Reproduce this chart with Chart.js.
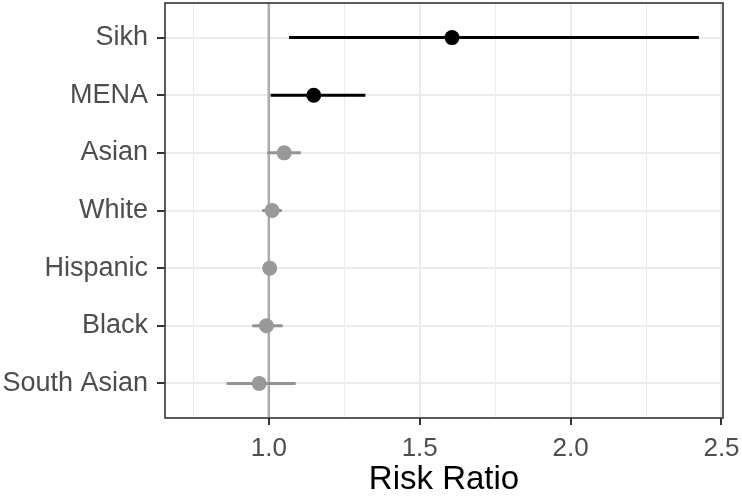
<!DOCTYPE html>
<html>
<head>
<meta charset="utf-8">
<script src="https://cdn.jsdelivr.net/npm/chart.js@4"></script>
<style>
  html, body { margin: 0; padding: 0; background: #fff; }
</style>
</head>
<body>
<canvas id="forest" width="742" height="496"></canvas>
<script>
const categories = ["Sikh", "MENA", "Asian", "White", "Hispanic", "Black", "South Asian"];
const estimate = [1.607, 1.149, 1.051, 1.011, 1.003, 0.992, 0.968];
const lower = [1.067, 1.006, 0.995, 0.978, 0.986, 0.945, 0.860];
const upper = [2.425, 1.320, 1.106, 1.043, 1.019, 1.046, 1.089];
const xTicks = [0.75, 1.0, 1.25, 1.5, 1.75, 2.0, 2.25, 2.5];
const majorTicks = [1.0, 1.5, 2.0, 2.5];
const refValue = 1.0;

const black = '#000000';
const grey = '#999999';
const greyLine = '#939393';
const fontFamily = "'Liberation Sans', Arial, Helvetica, sans-serif";

const isMajor = v => majorTicks.some(m => Math.abs(m - v) < 1e-6);
// black when the interval sits above 1
const pointColors = lower.map(l => l > refValue ? black : grey);
const lineColors = lower.map(l => l > refValue ? black : greyLine);

const forestPlugin = {
    id: 'forest',
    beforeDatasetsDraw(chart) {
        const ctx = chart.ctx;
        const x = chart.scales.x, y = chart.scales.y;
        const area = chart.chartArea;
        ctx.save();
        // reference line at 1
        ctx.strokeStyle = '#ababab';
        ctx.lineWidth = 2.5;
        ctx.beginPath();
        ctx.moveTo(x.getPixelForValue(refValue), area.top);
        ctx.lineTo(x.getPixelForValue(refValue), area.bottom);
        ctx.stroke();
        // confidence intervals
        ctx.lineWidth = 3;
        for (let i = 0; i < categories.length; i++) {
            ctx.strokeStyle = lineColors[i];
            ctx.beginPath();
            ctx.moveTo(x.getPixelForValue(lower[i]), y.getPixelForValue(i));
            ctx.lineTo(x.getPixelForValue(upper[i]), y.getPixelForValue(i));
            ctx.stroke();
        }
        ctx.restore();
    },
    afterDraw(chart) {
        const ctx = chart.ctx;
        const a = chart.chartArea;
        ctx.save();
        ctx.strokeStyle = '#333333';
        ctx.lineWidth = 1.6;
        ctx.strokeRect(a.left, a.top, a.right - a.left, a.bottom - a.top);
        ctx.restore();
    }
};

new Chart("forest", {
    type: "scatter",
    data: {
        datasets: [{
            data: estimate.map((v, i) => ({ x: v, y: i })),
            backgroundColor: pointColors,
            borderWidth: 0,
            pointRadius: 7.5,
            pointHoverRadius: 7.5
        }]
    },
    options: {
        responsive: false,
        animation: false,
        events: [],
        layout: { autoPadding: false, padding: { top: 3, right: 19, left: 0, bottom: 0 } },
        plugins: {
            legend: { display: false },
            tooltip: { enabled: false }
        },
        scales: {
            x: {
                type: 'linear',
                min: 0.656,
                max: 2.505,
                afterBuildTicks: scale => { scale.ticks = xTicks.map(v => ({ value: v })); },
                afterFit: scale => {
                    scale.height = 78;
                    scale.paddingLeft = 0;
                    scale.paddingRight = 0;
                },
                border: { display: false },
                grid: {
                    color: '#ebebeb',
                    lineWidth: c => (c.tick && isMajor(c.tick.value)) ? 2 : 1,
                    tickColor: c => (c.tick && isMajor(c.tick.value)) ? '#333333' : 'rgba(0,0,0,0)',
                    tickLength: 7,
                    tickWidth: 2
                },
                ticks: {
                    autoSkip: false,
                    maxRotation: 0,
                    padding: 8,
                    color: '#4d4d4d',
                    font: { family: fontFamily, size: 26 },
                    callback: v => isMajor(v) ? v.toFixed(1) : ''
                },
                title: {
                    display: true,
                    text: 'Risk Ratio',
                    color: '#000000',
                    font: { family: fontFamily, size: 33, lineHeight: 1.0 },
                    padding: { top: 0, bottom: 0 }
                }
            },
            y: {
                type: 'linear',
                reverse: true,
                min: -0.6,
                max: categories.length - 0.4,
                afterBuildTicks: scale => { scale.ticks = categories.map((c, i) => ({ value: i })); },
                afterFit: scale => {
                    scale.width = 165;
                    scale.paddingTop = 0;
                    scale.paddingBottom = 0;
                },
                border: { display: false },
                grid: {
                    color: '#ebebeb',
                    lineWidth: 2,
                    tickColor: '#333333',
                    tickLength: 8,
                    tickWidth: 2
                },
                ticks: {
                    autoSkip: false,
                    padding: 9,
                    color: '#4d4d4d',
                    font: { family: fontFamily, size: 27 },
                    callback: v => categories[v]
                }
            }
        }
    },
    plugins: [forestPlugin]
});
</script>
</body>
</html>
